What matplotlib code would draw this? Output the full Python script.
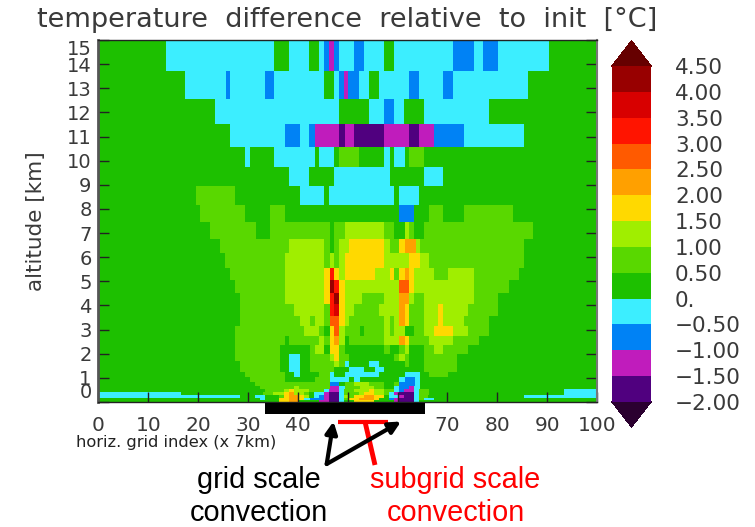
import matplotlib
matplotlib.use('Agg')
import matplotlib.pyplot as plt
from matplotlib.cm import ScalarMappable
from matplotlib.colors import BoundaryNorm, ListedColormap
from matplotlib.patches import Rectangle

# temperature difference, one value per colour band
D, P, B, C = -1.75, -1.25, -0.75, -0.25
G, L, Y, A = 0.25, 0.75, 1.25, 1.75
O, R, F, K, M = 2.25, 2.75, 3.25, 3.75, 4.25

levels = [-2, -1.5, -1, -0.5, 0, 0.5, 1, 1.5, 2, 2.5, 3, 3.5, 4, 4.5]
level_labels = ['\u22122.00', '\u22121.50', '\u22121.00', '\u22120.50', '0.', '0.50', '1.00',
                '1.50', '2.00', '2.50', '3.00', '3.50', '4.00', '4.50']
band_colors = ['#50007f', '#c01cbc', '#0082f5', '#3ceeff', '#1dc000', '#59d800', '#a0ee00',
               '#ffd900', '#ffa000', '#ff5a00', '#ff1400', '#d80000', '#980000']
under_color = '#2b0030'
over_color = '#660000'

x_ticks = [0, 10, 20, 30, 40, 50, 60, 70, 80, 90, 100]
x_labels = ['0', '10', '20', '30', '40', '', '', '70', '80', '90', '100']
y_ticks = list(range(16))

# model layer edges on the altitude axis, top to bottom
layer_edges = [15, 13.70, 12.54, 11.51, 10.58, 9.74, 8.94, 8.18, 7.45, 6.77, 6.17, 5.57, 5.06,
               4.53, 4.06, 3.56, 3.14, 2.74, 2.36, 2.00, 1.71, 1.46, 1.24, 1.05, 0.84, 0.68,
               0.54, 0.41, 0.29, 0.18, 0.08, 0]

# each layer: (grid index where the run ends, value)
row00 = [(13.5, G), (35.2, C), (38.2, G), (42.3, C), (44.3, G), (45.3, C), (46.3, B), (47.2, P), (48.3, B),
         (51.3, C), (53.2, B), (57.3, C), (59.2, G), (71.2, C), (75.3, B), (77.2, C), (80.2, B), (90.3, C), (100, G)]
row01 = [(17.3, G), (25.5, C), (26.3, B), (33.3, C), (35.3, B), (45.3, C), (47.2, G), (48.3, C), (49.3, B),
         (50.1, P), (52.3, B), (54.2, C), (56.2, G), (62.2, C), (64.2, B), (69.2, C), (71.2, B), (86.2, C), (100, G)]
row02 = [(23.3, G), (48.3, C), (54.3, G), (57.3, C), (59.2, B), (61.3, C), (65.2, G), (78.3, C), (100, G)]
row03 = [(26.3, G), (37.4, C), (40.5, B), (42.3, C), (43.4, B), (48.3, P), (49.4, D), (51.3, P), (57.3, D),
         (62.2, P), (64.2, D), (67.3, P), (73.4, B), (85.3, C), (100, G)]
row04 = [(29.3, G), (30.4, C), (35.3, G), (43.4, C), (44.3, G), (47.2, C), (48.3, G), (52.3, L), (57.3, G),
         (58.4, C), (59.2, G), (61.4, C), (62.2, G), (65.2, L), (100, G)]
row05 = [(38.3, G), (42.3, C), (47.3, G), (58.4, C), (65.2, G), (69.2, C), (100, G)]
row06 = [(19.5, G), (27.3, L), (40.4, G), (45.3, C), (46.3, G), (59.2, C), (60.3, G), (64.2, C), (100, G)]
row07 = [(20.3, G), (29.3, L), (34.4, G), (37.4, L), (60.2, G), (63.3, B), (66.2, G), (69.2, L), (73.4, G),
         (83.1, L), (100, G)]
row08 = [(22.4, G), (31.5, L), (34.4, G), (46.4, L), (47.2, G), (49.4, L), (57.3, Y), (59.2, L), (61.4, G),
         (62.2, Y), (63.3, L), (65.2, G), (87.2, L), (100, G)]
row09 = [(24.4, G), (38.3, L), (45.3, Y), (46.4, L), (47.2, G), (48.3, L), (50.2, Y), (57.3, A), (58.4, Y),
         (60.3, L), (61.4, A), (63.6, O), (64.4, Y), (85.4, L), (100, G)]
row10 = [(25.4, G), (37.4, L), (45.3, Y), (46.4, L), (47.2, Y), (48.3, L), (49.4, Y), (57.3, A), (62.2, Y),
         (64.4, A), (66.3, Y), (85.4, L), (100, G)]
row11 = [(26.3, G), (37.4, L), (45.3, Y), (46.4, A), (47.2, F), (48.3, A), (49.4, Y), (55.4, A), (58.4, Y),
         (59.2, A), (60.3, L), (61.4, A), (62.2, O), (63.2, A), (67.3, Y), (70.2, L), (75.3, Y), (84.4, L), (100, G)]
row12 = [(27.3, G), (37.4, L), (45.3, Y), (46.4, A), (47.2, M), (48.3, F), (49.4, A), (60.3, Y), (62.2, R),
         (63.2, A), (75.3, Y), (82.3, L), (100, G)]
row13 = [(28.4, G), (37.4, L), (45.3, Y), (46.4, A), (47.2, F), (48.3, M), (49.4, A), (52.9, Y), (57.3, L),
         (60.3, Y), (62.2, O), (63.2, Y), (65.2, L), (75.3, Y), (80.1, L), (100, G)]
row14 = [(28.4, G), (39.3, L), (45.3, Y), (46.4, L), (47.2, F), (48.3, K), (49.4, A), (51.3, Y), (56.2, L),
         (60.3, Y), (61.4, O), (62.2, A), (65.2, L), (68.2, Y), (69.2, A), (74.2, Y), (80.1, L), (100, G)]
row15 = [(28.4, G), (40.5, L), (42.4, Y), (43.4, L), (45.3, Y), (46.4, L), (48.3, R), (49.4, A), (50.2, Y),
         (57.3, L), (58.4, Y), (59.2, L), (60.3, Y), (61.4, O), (62.2, A), (65.2, L), (68.2, Y), (69.2, A),
         (73.4, Y), (78.3, L), (100, G)]
row16 = [(27.4, G), (41.3, L), (44.3, Y), (45.3, L), (46.4, G), (47.2, A), (48.3, R), (49.4, Y), (52.4, L),
         (53.2, G), (57.3, L), (58.4, Y), (59.2, L), (61.4, Y), (63.3, G), (65.2, L), (67.3, Y), (71.2, A),
         (74.2, Y), (78.3, L), (100, G)]
row17 = [(27.4, G), (37.4, L), (38.3, G), (44.3, L), (45.3, Y), (46.4, L), (47.2, A), (48.3, O), (49.4, Y),
         (50.2, G), (57.3, L), (60.3, Y), (61.4, O), (62.2, A), (66.3, L), (71.2, Y), (76.3, L), (100, G)]
row18 = [(27.4, G), (36.4, L), (42.4, G), (43.4, L), (45.3, Y), (46.4, G), (48.3, A), (49.4, L), (57.3, G),
         (58.4, L), (60.3, G), (61.4, L), (62.2, Y), (65.2, G), (67.3, L), (69.2, Y), (74.2, L), (100, G)]
row19 = [(27.4, G), (36.4, L), (38.3, G), (40.4, C), (42.4, G), (46.4, L), (47.2, Y), (48.3, A), (50.2, L),
         (59.2, G), (60.3, L), (61.4, Y), (62.2, L), (65.2, G), (72, L), (100, G)]
row20 = [(28.4, G), (36.4, L), (38.3, G), (40.4, C), (42.4, G), (47.2, L), (48.3, Y), (49.4, L), (50.2, C),
         (54.3, G), (56.2, C), (61.4, G), (62.2, L), (65.2, G), (72, L), (100, G)]
row21 = [(28.4, G), (36.4, L), (38.3, G), (40.4, C), (42.4, G), (47.2, L), (50.2, G), (53.2, C), (55.4, G),
         (57.3, C), (65.2, G), (72, L), (100, G)]
row22 = [(29.4, G), (37.4, L), (39.3, G), (40.4, C), (44.3, G), (46.4, L), (47.2, C), (49.4, G), (56.2, C),
         (61.4, G), (64.4, C), (66.3, G), (70.2, L), (100, G)]
row23 = [(30.4, G), (37.4, L), (43.4, G), (46.4, L), (50.2, C), (51.3, G), (52.4, C), (60.3, G), (61.4, C),
         (63.5, B), (64.4, C), (100, G)]
row24 = [(31.4, G), (46.4, L), (48.3, B), (49.4, G), (51.3, L), (54.3, Y), (57.3, L), (59.2, G), (60.3, L),
         (63.5, B), (64.4, C), (100, G)]
row25 = [(32.4, G), (39.3, L), (40.3, Y), (46.4, L), (48.3, P), (49.4, C), (52.4, L), (55.3, Y), (57.3, L),
         (59.2, G), (60.3, C), (62.3, B), (63.3, P), (64.4, C), (100, G)]
row26 = [(33.4, G), (37.3, L), (38.3, Y), (39.3, A), (42.3, Y), (45.3, L), (46.3, C), (48.3, P), (49.3, C),
         (51.3, L), (54.3, Y), (55.3, A), (57.3, Y), (59.3, L), (60.3, C), (61.3, B), (63.3, P), (64.3, C),
         (66.3, L), (93.3, G), (100, C)]
row27 = [(16.5, C), (33, G), (35, L), (37.3, Y), (38.3, A), (39.3, O), (41.3, Y), (42.3, L), (43.3, G), (45.3, C),
         (46.3, P), (48.3, D), (49.3, C), (52.3, L), (53.3, Y), (55.3, A), (57.3, Y), (58.3, L), (59.3, C),
         (60.3, P), (63.3, D), (64.3, C), (66.3, L), (93.3, G), (100, C)]
row28 = [(28.4, C), (31.4, G), (33.4, C), (36.3, G), (37.3, L), (38.3, A), (40.3, O), (41.3, A), (42.3, Y),
         (43.3, G), (44.3, C), (45.3, B), (46.3, P), (48.3, D), (49.3, C), (50.3, Y), (51.3, L), (53.3, A),
         (55.3, O), (57.3, A), (58.3, G), (60.3, C), (61.3, P), (63.3, D), (64.3, C), (66, L), (85.3, G), (100, C)]
row29 = [(32.4, G), (33.4, C), (36.3, G), (38.3, A), (40.3, O), (41.3, A), (42.4, C), (45.3, B), (46.3, P),
         (48.3, D), (49.3, C), (50.3, L), (52.3, A), (55.3, O), (56.3, A), (58.3, G), (59.3, B), (60.3, P),
         (63.3, D), (64.3, C), (65.2, L), (67.3, C), (100, G)]
row30 = [(36.3, G), (38.3, A), (40.3, O), (44.3, G), (46.3, P), (48.3, D), (49.3, C), (51.3, G), (55.3, A),
         (59.3, G), (60.3, P), (63.3, D), (64.3, C), (100, G)]

rows = [row00, row01, row02, row03, row04, row05, row06, row07, row08, row09, row10,
        row11, row12, row13, row14, row15, row16, row17, row18, row19, row20, row21,
        row22, row23, row24, row25, row26, row27, row28, row29, row30]

TEXT_GREY = '#3a3a3a'

fig = plt.figure(figsize=(7.55, 5.27), dpi=100)
W, H = 755.0, 527.0

ax = fig.add_axes([98.5 / W, (H - 402) / H, 498.5 / W, 362 / H])
cmap = ListedColormap(band_colors).with_extremes(under=under_color, over=over_color)
norm = BoundaryNorm(levels, cmap.N)

# layers have their own run edges, so draw them one at a time
for i, row in enumerate(rows):
    edges = [0] + [r[0] for r in row]
    values = [[r[1] for r in row]]
    ax.pcolormesh(edges, [layer_edges[i + 1], layer_edges[i]], values, cmap=cmap, norm=norm,
                  antialiased=False, linewidth=0)

ax.set_xlim(0, 100)
ax.set_ylim(0, 15)
ax.set_xticks(x_ticks)
ax.set_xticklabels(x_labels, fontsize=14.5, color=TEXT_GREY)
ax.set_yticks(y_ticks)
ax.set_yticklabels([str(v) for v in y_ticks], fontsize=14, color=TEXT_GREY)
ax.get_yticklabels()[0].set_verticalalignment('bottom')
ax.get_yticklabels()[-1].set_verticalalignment('top')
ax.tick_params(axis='x', direction='in', length=7, width=1, color='#222222', pad=10, top=False)
ax.tick_params(axis='y', direction='in', length=8, width=1, color='#222222', pad=5, right=True)
ax.spines['left'].set_linewidth(2)
ax.spines['left'].set_color('#555555')
ax.spines['right'].set_linewidth(1.5)
ax.spines['right'].set_color('#777777')
ax.spines['top'].set_linewidth(1)
ax.spines['top'].set_color('#222222')
ax.spines['bottom'].set_linewidth(1)
ax.spines['bottom'].set_color('#222222')

# colour bar, the axes box includes both end triangles
cax = fig.add_axes([611.7 / W, (H - 427.3) / H, 39.6 / W, 386.6 / H])
cb = fig.colorbar(ScalarMappable(norm=norm, cmap=cmap), cax=cax, extend='both',
                  extendfrac=0.0758, ticks=levels, spacing='uniform')
cb.ax.set_yticklabels(level_labels, fontsize=15.5, color=TEXT_GREY, ha='left')
cb.ax.tick_params(length=0, pad=17)
cb.outline.set_visible(False)

# everything else in reference pixels
over = fig.add_axes([0, 0, 1, 1])
over.set_xlim(0, W)
over.set_ylim(H, 0)
over.axis('off')
over.patch.set_alpha(0)

over.text(347, 20, 'temperature  difference  relative  to  init  [\u00b0C]', fontsize=19.5,
          color=TEXT_GREY, ha='center', va='center')
over.text(36, 221, 'altitude [km]', fontsize=15.5, color=TEXT_GREY, rotation=90,
          ha='center', va='center')
over.text(176, 442, 'horiz. grid index (x 7km)', fontsize=11.7, color='#222222',
          ha='center', va='center')

over.add_patch(Rectangle((264.7, 402.7), 160.5, 11.6, color='black', lw=0))

# red marker for the subgrid scale columns
over.plot([338.3, 388.3], [421.7, 421.7], color='#ff0000', lw=3, solid_capstyle='butt')
over.plot([365, 375], [421.7, 465], color='#ff0000', lw=3.5, solid_capstyle='butt')

for tip in [(333.5, 421.5), (401, 421.5)]:
    over.annotate('', xy=tip, xytext=(326.7, 464),
                  arrowprops=dict(arrowstyle='-|>,head_width=0.35,head_length=0.7', color='black',
                                  lw=3, shrinkA=0, shrinkB=0))

for x, y, txt, col in [(259, 480, 'grid scale', 'black'), (259.3, 513, 'convection', 'black'),
                       (455, 480, 'subgrid scale', '#ff0000'), (455.7, 513, 'convection', '#ff0000')]:
    over.text(x, y, txt, fontsize=20.8, family='Liberation Sans', color=col, ha='center', va='center')

fig.savefig('out.png', dpi=100)
